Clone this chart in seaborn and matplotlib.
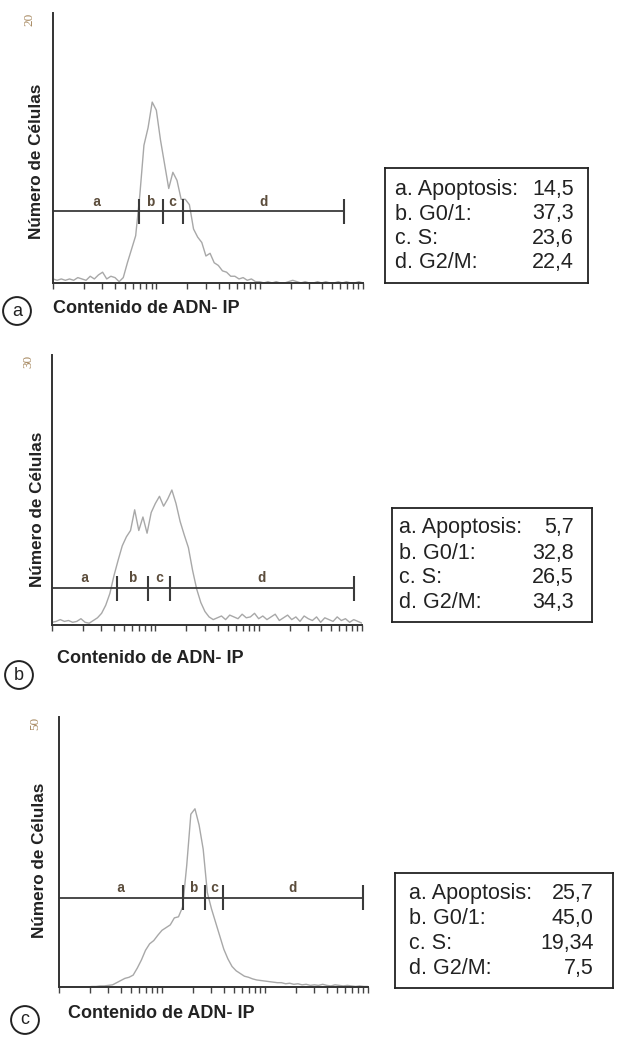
import numpy as np
import matplotlib
matplotlib.use('Agg')
import matplotlib.pyplot as plt
import seaborn as sns

# DNA content histograms, one count per channel bin (76 bins over 3 log decades)
counts_a = [0.3, 0.2, 0.3, 0.2, 0.3, 0.2, 0.4, 0.3, 0.2, 0.5,
            0.3, 0.6, 0.8, 0.3, 0.5, 0.4, 0.1, 0.4, 1.5, 2.5,
            3.5, 6.5, 10.2, 11.5, 13.4, 12.8, 10.6, 8.8, 7.0, 8.2,
            7.6, 6.2, 6.2, 5.8, 4.0, 3.4, 3.0, 2.0, 2.2, 1.5,
            1.3, 0.9, 0.8, 0.5, 0.5, 0.3, 0.4, 0.2, 0.3, 0.1,
            0.1, 0.0, 0.1, 0.0, 0.1, 0.0, 0.0, 0.1, 0.2, 0.1,
            0.0, 0.1, 0.0, 0.0, 0.1, 0.0, 0.1, 0.0, 0.0, 0.1,
            0.0, 0.1, 0.0, 0.0, 0.1, 0.0]
counts_b = [0.3, 0.4, 0.6, 0.4, 0.5, 0.3, 0.4, 0.7, 0.3, 0.2,
            0.5, 0.8, 1.3, 2.2, 3.5, 5.5, 7.2, 8.8, 9.8, 10.5,
            12.8, 10.5, 12.0, 10.2, 12.5, 13.5, 14.3, 13.2, 14.0, 15.0,
            13.5, 11.5, 10.0, 8.6, 6.1, 4.0, 2.5, 1.5, 0.9, 0.6,
            0.8, 1.0, 0.6, 1.1, 0.9, 0.7, 1.2, 0.8, 0.9, 1.3,
            0.7, 1.0, 0.6, 0.9, 1.2, 0.5, 0.8, 1.1, 0.6, 0.9,
            0.4, 1.0, 0.7, 0.5, 0.9, 0.3, 0.8, 0.6, 0.4, 0.9,
            0.5, 0.7, 0.3, 0.6, 0.4, 0.2]
counts_c = [0.0, 0.0, 0.0, 0.0, 0.0, 0.0, 0.0, 0.0, 0.1, 0.1,
            0.2, 0.2, 0.3, 0.4, 0.8, 1.2, 1.6, 1.8, 2.2, 3.5,
            5.0, 6.8, 8.0, 8.6, 9.6, 10.5, 11.0, 11.5, 12.8, 13.0,
            14.8, 22.5, 32.0, 33.0, 30.0, 25.5, 17.5, 14.5, 12.0, 9.5,
            7.0, 5.2, 3.8, 3.0, 2.5, 2.0, 1.8, 1.5, 1.3, 1.2,
            1.1, 1.0, 0.9, 0.8, 0.8, 0.6, 0.7, 0.5, 0.6, 0.4,
            0.5, 0.3, 0.4, 0.3, 0.5, 0.3, 0.2, 0.4, 0.3, 0.2,
            0.3, 0.2, 0.1, 0.2, 0.1, 0.1]

y_max = [20, 30, 50]

# gate edges (channel bins) and the height of the gate marker
gates_a = [20.8, 26.5, 31.5, 70.5]
gates_b = [15.8, 23.3, 28.5, 73.0]
gates_c = [30.0, 35.5, 39.8, 73.8]
gate_level = [5.3, 4.1, 16.5]
gate_names = ['a', 'b', 'c', 'd']

phases = ['a. Apoptosis:', 'b. G0/1:', 'c. S:', 'd. G2/M:']
pct_a = ['14,5', '37,3', '23,6', '22,4']
pct_b = ['5,7', '32,8', '26,5', '34,3']
pct_c = ['25,7', '45,0', '19,34', '7,5']
panel_tags = ['a', 'b', 'c']

sns.set_style('ticks')
plt.rcParams['font.family'] = ['Liberation Sans', 'DejaVu Sans']

W, H = 620, 1039
fig = plt.figure(figsize=(W / 100, H / 100), dpi=100)


def rect(l, t, r, b):
    return [l / W, 1 - b / H, (r - l) / W, (b - t) / H]


axes_px = [(53, 13, 363, 283), (52, 355, 362, 625), (59, 717, 368, 987)]
box_px = [(385, 168, 588, 283), (392, 508, 592, 622), (395, 873, 613, 988)]
ylab_pos = [(-0.028, 0.45), (-0.024, 0.43), (-0.04, 0.47)]
xlab_pos = [(0.0, -0.062), (0.016, -0.092), (0.03, -0.068)]
tag_px = [(17, 311), (19, 675), (25, 1020)]
box_text_x = [(0.05, 0.93), (0.035, 0.91), (0.064, 0.91)]

all_counts = [counts_a, counts_b, counts_c]
all_gates = [gates_a, gates_b, gates_c]
all_pct = [pct_a, pct_b, pct_c]

# minor-log tick positions in channel units (25 bins per decade)
tick_pos = [25 * np.log10(k * 10 ** d) for d in range(3) for k in range(1, 10)] + [75]

for i in range(3):
    ax = fig.add_axes(rect(*axes_px[i]))
    counts = all_counts[i]
    sns.lineplot(x=np.arange(len(counts)), y=counts, ax=ax, color='#a8a8a8', lw=1.0)
    ax.set_xlim(0, 75)
    ax.set_ylim(0, y_max[i])
    sns.despine(ax=ax)
    for s in ['left', 'bottom']:
        ax.spines[s].set_color('#333333')
        ax.spines[s].set_linewidth(1.4)

    ax.set_xticks(tick_pos)
    ax.set_xticklabels([])
    ax.tick_params(axis='x', direction='out', length=4, width=1, color='#444444')
    ax.set_yticks([y_max[i]])
    ax.set_yticklabels([str(y_max[i])])
    ax.tick_params(axis='y', length=0, pad=13, labelsize=9.5, labelcolor='#a88a62', labelrotation=90)
    for t in ax.get_yticklabels():
        t.set_family('Liberation Serif')
        t.set_va('top')

    # gate markers
    g = all_gates[i]
    lev = gate_level[i]
    h = 0.046 * y_max[i]
    ax.hlines(lev, 0, g[-1], color='#3a3a3a', lw=1.3)
    ax.vlines(g, lev - h, lev + h, color='#3a3a3a', lw=1.5)
    edges = [0] + g
    for j, name in enumerate(gate_names):
        mid = (edges[j] + edges[j + 1]) / 2
        ax.annotate(name, (mid, lev), xytext=(0, 7), textcoords='offset points',
                    ha='center', va='center', family='Liberation Mono', weight='bold',
                    size=10, color='#5c4d3c')

    ax.set_ylabel('Número de Células', fontsize=12.3, weight='bold', color='#222222')
    ax.yaxis.set_label_coords(*ylab_pos[i])
    ax.set_xlabel('Contenido de ADN- IP', fontsize=13, weight='bold', color='#222222')
    ax.xaxis.label.set_ha('left')
    ax.xaxis.set_label_coords(*xlab_pos[i])

    fig.text(tag_px[i][0] / W, 1 - tag_px[i][1] / H, panel_tags[i], ha='center', va='center',
             fontsize=13, color='#222222',
             bbox=dict(boxstyle='circle,pad=0.3', fc='white', ec='#222222', lw=1.4))

    # percentage box
    bx = fig.add_axes(rect(*box_px[i]))
    bx.set_xticks([])
    bx.set_yticks([])
    for s in bx.spines.values():
        s.set_visible(True)
        s.set_color('#222222')
        s.set_linewidth(1.3)
    rows = [0.19, 0.40, 0.61, 0.82] if i == 0 else [0.175, 0.395, 0.61, 0.83]
    for r, lab, val in zip(rows, phases, all_pct[i]):
        bx.text(box_text_x[i][0], 1 - r, lab, transform=bx.transAxes, ha='left', va='center',
                fontsize=15.5, color='#222222')
        bx.text(box_text_x[i][1], 1 - r, val, transform=bx.transAxes, ha='right', va='center',
                fontsize=15.5, color='#222222')

fig.savefig('out.png', dpi=100)
